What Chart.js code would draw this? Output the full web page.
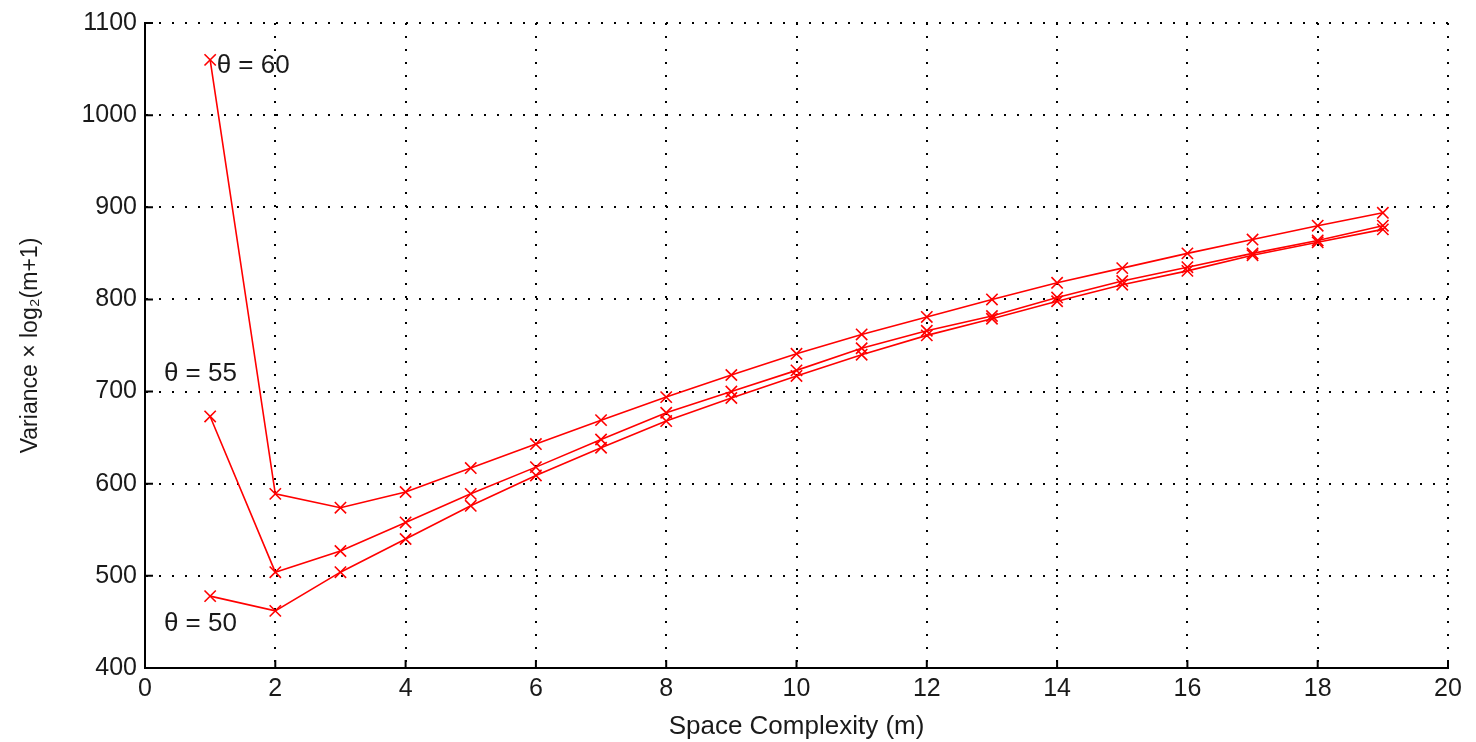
<!DOCTYPE HTML>
<html lang="en-US">

<head>
    <title>Variance vs Space Complexity</title>
    <meta charset="utf-8" />
    <script src="https://cdn.jsdelivr.net/npm/chart.js@4"></script>
    <style>
        html, body { margin: 0; padding: 0; background: #fff; }
        #wrap { width: 1476px; height: 742px; }
    </style>
</head>

<body>
    <div id="wrap"><canvas id="graph"></canvas></div>
    <script>
        // space complexity m
        const m = [1, 2, 3, 4, 5, 6, 7, 8, 9, 10, 11, 12, 13, 14, 15, 16, 17, 18, 19];

        // variance x log2(m+1)
        const theta60 = [1060, 589, 574, 591, 617, 643, 669, 694, 718, 741, 762, 781, 800, 818, 834, 850, 865, 880, 894];
        const theta55 = [673, 504, 527, 558, 589, 618, 648, 677, 700, 723, 747, 766, 782, 802, 820, 835, 850, 864, 880];
        const theta50 = [478, 462, 504, 540, 576, 609, 639, 668, 693, 717, 740, 761, 779, 798, 816, 831, 848, 862, 876];

        const xTicks = [0, 2, 4, 6, 8, 10, 12, 14, 16, 18, 20];
        const yTicks = [400, 500, 600, 700, 800, 900, 1000, 1100];

        // curve labels, in data coordinates
        const curveLabels = [
            { text: 'θ = 60', x: 1.1, y: 1054 },
            { text: 'θ = 55', x: 0.29, y: 719 },
            { text: 'θ = 50', x: 0.29, y: 448 }
        ];

        const FONT = '"Liberation Sans", Arial, Helvetica, sans-serif';

        const toPoints = (ys) => ys.map((y, i) => ({ x: m[i], y: y }));

        const series = (label, ys) => ({
            label: label,
            data: toPoints(ys),
            borderColor: '#ff0000',
            backgroundColor: '#ff0000',
            borderWidth: 1.6,
            pointStyle: 'crossRot',
            pointRadius: 8,
            pointBorderWidth: 1.6,
            tension: 0
        });

        // inward tick marks like matlab, plus the curve labels
        const extras = {
            id: 'extras',
            afterDraw(chart) {
                const ctx = chart.ctx;
                const xs = chart.scales.x, ys = chart.scales.y;
                const area = chart.chartArea;
                ctx.save();
                ctx.strokeStyle = '#000';
                ctx.lineWidth = 2;
                ctx.beginPath();
                for (const t of xTicks) {
                    const px = xs.getPixelForValue(t);
                    ctx.moveTo(px, area.bottom);
                    ctx.lineTo(px, area.bottom - 8);
                }
                for (const t of yTicks) {
                    const py = ys.getPixelForValue(t);
                    ctx.moveTo(area.left, py);
                    ctx.lineTo(area.left + 8, py);
                }
                ctx.stroke();

                ctx.fillStyle = '#1a1a1a';
                ctx.font = '26px ' + FONT;
                ctx.textAlign = 'left';
                ctx.textBaseline = 'middle';
                for (const l of curveLabels) {
                    ctx.fillText(l.text, xs.getPixelForValue(l.x), ys.getPixelForValue(l.y));
                }
                ctx.restore();
            }
        };

        const tickFont = { family: FONT, size: 25 };

        new Chart(document.getElementById('graph'), {
            type: 'line',
            data: {
                datasets: [
                    series('θ = 60', theta60),
                    series('θ = 55', theta55),
                    series('θ = 50', theta50)
                ]
            },
            plugins: [extras],
            options: {
                responsive: true,
                maintainAspectRatio: false,
                animation: false,
                layout: { padding: { top: 10, right: 28, bottom: 0, left: 0 } },
                plugins: {
                    legend: { display: false },
                    tooltip: { enabled: false }
                },
                scales: {
                    x: {
                        type: 'linear',
                        min: 0,
                        max: 20,
                        afterBuildTicks: (s) => { s.ticks = xTicks.map(v => ({ value: v })); },
                        afterFit: (s) => { s.height = 74; },
                        ticks: { color: '#1a1a1a', font: tickFont, padding: 6, maxRotation: 0, callback: (v) => String(v) },
                        grid: { color: '#000', lineWidth: 2, drawTicks: false },
                        border: { display: true, color: '#000', width: 2, dash: [2, 11] },
                        title: {
                            display: true,
                            text: 'Space Complexity (m)',
                            color: '#1a1a1a',
                            font: { family: FONT, size: 26 },
                            padding: { top: 8, bottom: 0 }
                        }
                    },
                    y: {
                        type: 'linear',
                        min: 400,
                        max: 1100,
                        afterBuildTicks: (s) => { s.ticks = yTicks.map(v => ({ value: v })); },
                        afterFit: (s) => { s.width = 145; },
                        ticks: { color: '#1a1a1a', font: tickFont, padding: 8, callback: (v) => String(v) },
                        grid: { color: '#000', lineWidth: 2, drawTicks: false },
                        border: { display: true, color: '#000', width: 2, dash: [2, 11] },
                        title: {
                            display: true,
                            text: 'Variance × log₂(m+1)',
                            color: '#1a1a1a',
                            font: { family: FONT, size: 23 },
                            padding: { top: 17, bottom: 0 }
                        }
                    }
                }
            }
        });
    </script>
</body>

</html>
